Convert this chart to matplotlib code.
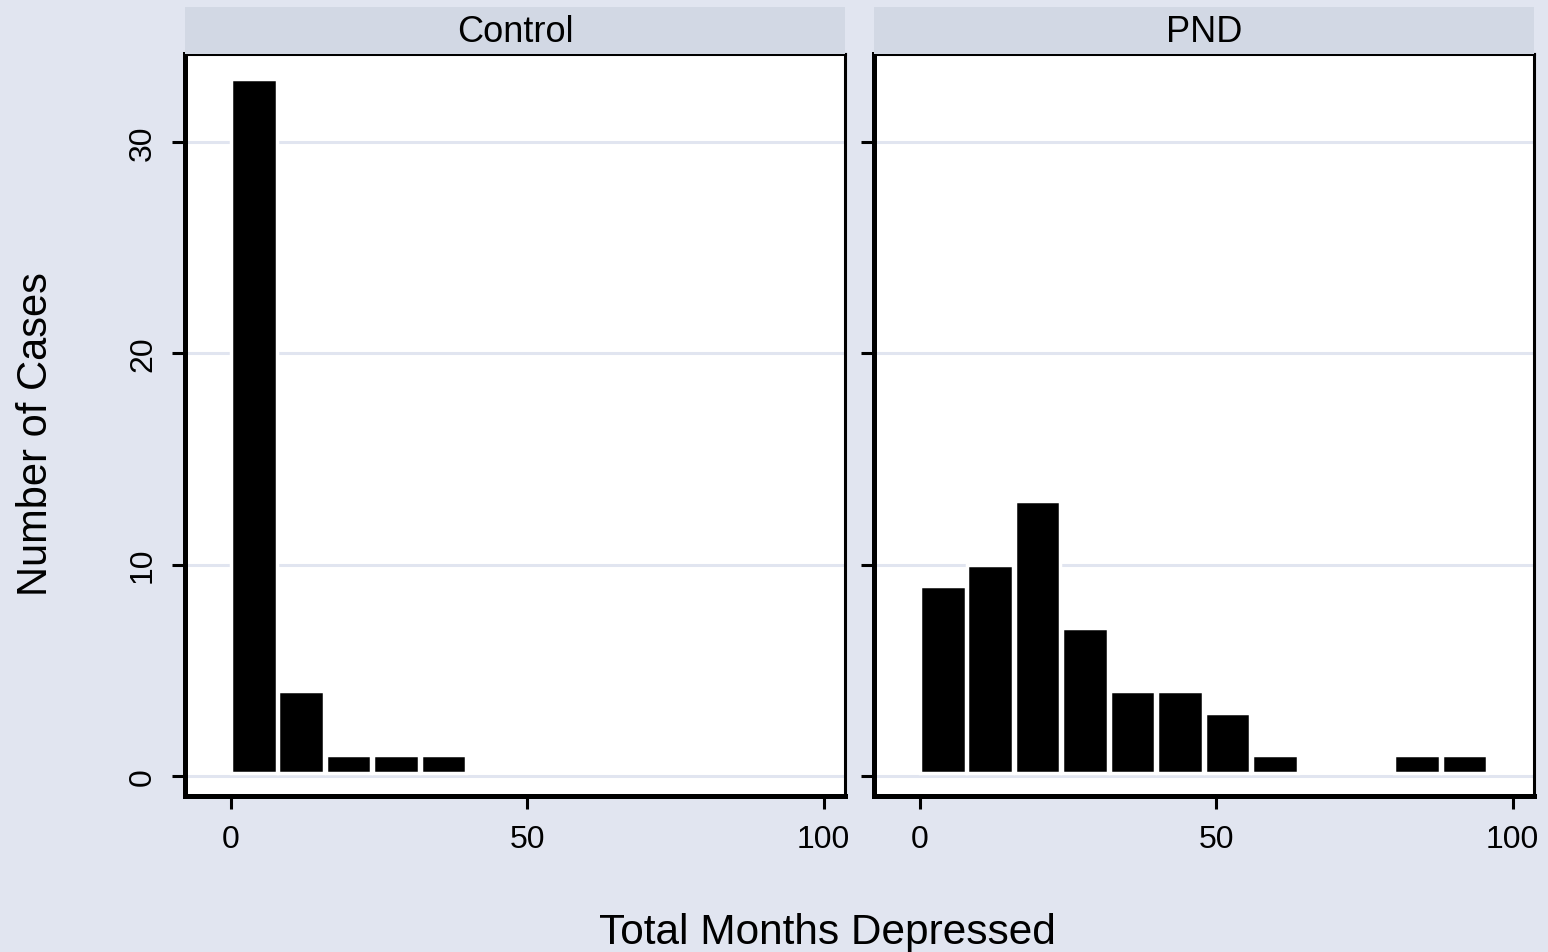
import matplotlib
matplotlib.use("Agg")
import matplotlib.pyplot as plt
import numpy as np

plt.rcParams['font.family'] = ['Liberation Sans', 'DejaVu Sans']

# histogram data (bin width 8 months)
bin_starts = [0, 8, 16, 24, 32, 40, 48, 56, 64, 72, 80, 88]
control_counts = [33, 4, 1, 1, 1, 0, 0, 0, 0, 0, 0, 0]
pnd_counts = [9, 10, 13, 7, 4, 4, 3, 1, 0, 0, 1, 1]
groups = ["Control", "PND"]
x_ticks = [0, 50, 100]
y_ticks = [0, 10, 20, 30]

bg = '#E1E5F0'
strip = '#D2D8E4'
W, H = 1548, 953
base = 0.15  # small lift of bars above the zero line

fig = plt.figure(figsize=(W / 100, H / 100), dpi=100, facecolor=bg)

panels = [(185, 845), (874, 1534)]
top_px, bot_px, strip_top = 55, 797, 8

for (x0, x1), name, counts in zip(panels, groups, [control_counts, pnd_counts]):
    ax = fig.add_axes([x0 / W, 1 - bot_px / H, (x1 - x0) / W, (bot_px - top_px) / H])
    ax.set_facecolor('white')
    centers = np.array(bin_starts) + 3.9
    c = np.array(counts, dtype=float)
    nz = c > 0
    ax.bar(centers[nz], c[nz] - base, width=7.7, bottom=base,
           color='black', edgecolor='white', linewidth=2.5, zorder=3)
    ax.set_xlim(-7.7, 103.6)
    ax.set_ylim(-0.95, 34.17)
    ax.set_xticks(x_ticks)
    ax.set_yticks(y_ticks)
    ax.yaxis.grid(True, color=bg, lw=2.2, zorder=0)
    ax.set_axisbelow(True)
    ax.tick_params(axis='both', length=9.5, width=2.2, color='black',
                   labelsize=23)
    ax.tick_params(axis='x', pad=11)
    ax.tick_params(axis='y', pad=10)
    for lab in ax.get_yticklabels():
        lab.set_rotation(90)
        lab.set_va('center')
    for s in ['left', 'bottom']:
        ax.spines[s].set_linewidth(3.6)
    for s in ['top', 'right']:
        ax.spines[s].set_linewidth(2.2)
    if name != groups[0]:
        ax.tick_params(axis='y', labelleft=False)

    sax = fig.add_axes([x0 / W, 1 - top_px / H, (x1 - x0) / W, (top_px - strip_top) / H])
    sax.set_facecolor(strip)
    sax.set_xticks([])
    sax.set_yticks([])
    for s in sax.spines.values():
        s.set_visible(False)
    sax.text(0.5, 0.47, name, ha='center', va='center', fontsize=26,
             transform=sax.transAxes)

fig.text(827 / W, 1 - 933 / H, "Total Months Depressed", ha='center', va='center', fontsize=30.5)
fig.text(36 / W, 1 - 434 / H, "Number of Cases", ha='center', va='center',
         rotation=90, fontsize=30)

fig.savefig("out.png", dpi=100, facecolor=bg)
